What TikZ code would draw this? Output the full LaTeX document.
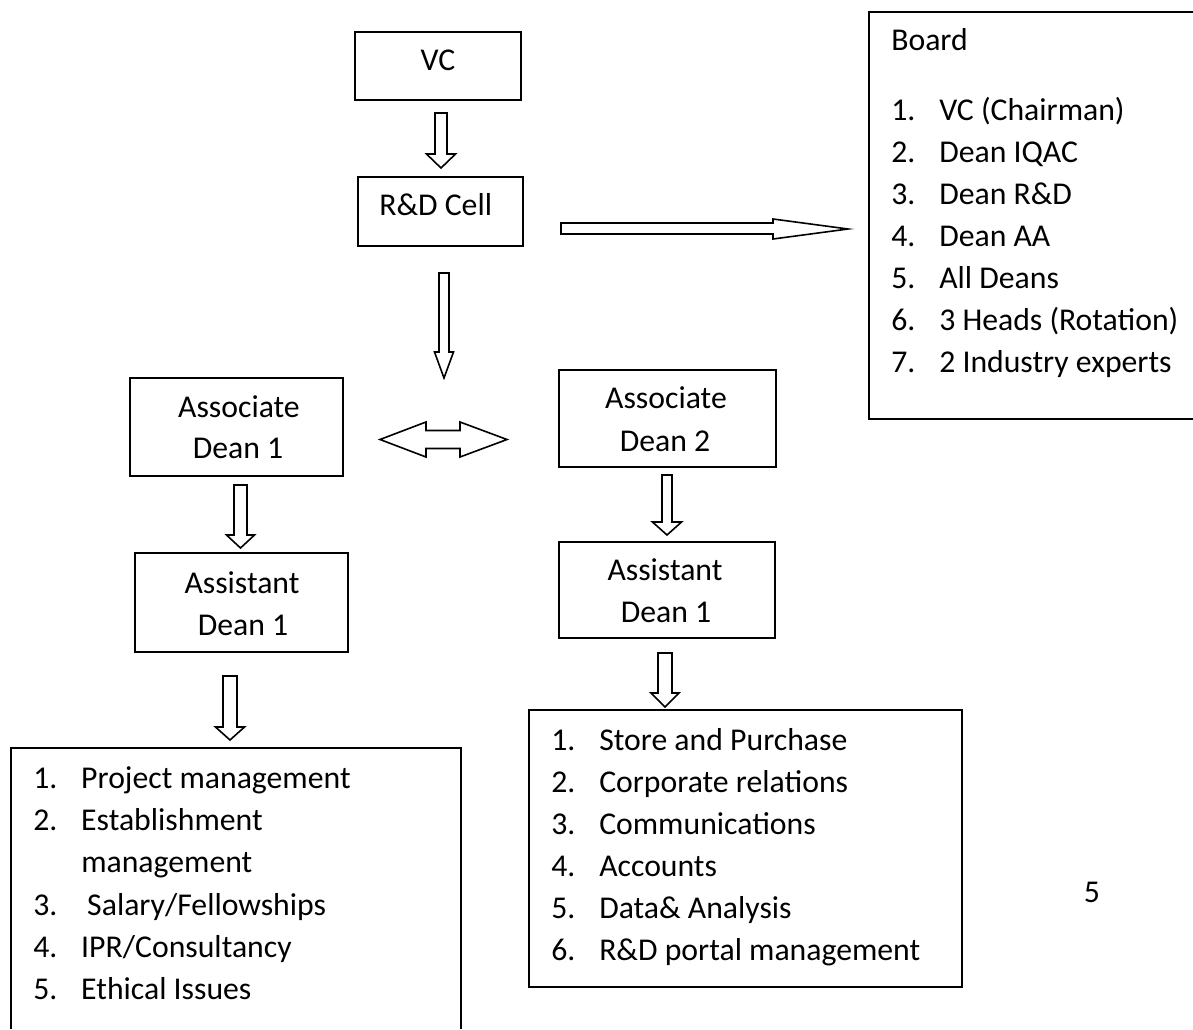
\documentclass[tikz,border=0pt]{standalone}
\usepackage{fontspec}
\setmainfont{Carlito}
\usetikzlibrary{fit}
\newcommand\blkdown[6]{% cx, half shaft, half head, ytop, yhead, ytip
  \draw[blk] (#1-#2,#4) -- (#1+#2,#4) -- (#1+#2,#5) -- (#1+#3,#5) -- (#1,#6)
    -- (#1-#3,#5) -- (#1-#2,#5) -- cycle;}
\begin{document}
\begin{tikzpicture}[x=0.75pt,y=-0.75pt,
  box/.style={draw, line width=1.4pt, inner sep=0pt},
  frame/.style={line width=1.4pt},
  txt/.style={inner sep=0pt, font=\fontsize{23.8}{31.5}\selectfont},
  blk/.style={draw, line width=1.2pt, fill=white, line join=miter}]
\useasboundingbox (0,0) rectangle (1193,1029);
\fill[white] (0,0) rectangle (1193,1029);
% boxes
\node[box, fit={(355,32) (521,100)}] (vc) {};
\node[box, fit={(358,177) (523,246)}] (rd) {};
\node[box, fit={(130,378) (343,476)}] (as1) {};
\node[box, fit={(135,553) (348,652)}] (ad1) {};
\node[box, fit={(559,370) (776,467)}] (as2) {};
\node[box, fit={(559,542) (775,638)}] (ad2) {};
\node[inner sep=0pt, fit={(869,12) (1193,419)}] (board) {};
\draw[frame] (board.north east) -- (board.north west) -- (board.south west) -- (board.south east);
\node[inner sep=0pt, fit={(11,748) (461,1029)}] (list1) {};
\draw[frame] (list1.south west) -- (list1.north west) -- (list1.north east) -- (list1.south east);
\node[box, fit={(529,710) (962,987)}] (list2) {};
% box texts
\node[txt, anchor=base] (vct) at (438,70) {VC};
\node[txt, anchor=base west] (rdt) at (379,215) {R\&D Cell};
\node[txt, anchor=base] (as1a) at (239,417) {Associate};
\node[txt, anchor=base] (as1b) at (238,458) {Dean 1};
\node[txt, anchor=base] (ad1a) at (242,593) {Assistant};
\node[txt, anchor=base] (ad1b) at (243,635) {Dean 1};
\node[txt, anchor=base] (as2a) at (666,408) {Associate};
\node[txt, anchor=base] (as2b) at (665,451) {Dean 2};
\node[txt, anchor=base] (ad2a) at (665,580) {Assistant};
\node[txt, anchor=base] (ad2b) at (666,622) {Dean 1};
% board
\node[txt, anchor=base west] (bt) at (891,50) {Board};
\foreach \t [count=\i] in {VC (Chairman), Dean IQAC, Dean R\&D, Dean AA, All Deans, 3 Heads (Rotation), 2 Industry experts}
  \node[txt, anchor=base west] (b\i) at (891,{120+42*(\i-1)}) {\makebox[36pt][l]{\i.}\t};
% left list
\node[txt, anchor=base west] (l1) at (33,788) {\makebox[36pt][l]{1.}Project management};
\node[txt, anchor=base west] (l2) at (33,830) {\makebox[36pt][l]{2.}Establishment};
\node[txt, anchor=base west] (l2b) at (81,872) {management};
\node[txt, anchor=base west] (l3) at (33,915) {\makebox[36pt][l]{3.}\hspace{4.5pt}Salary/Fellowships};
\node[txt, anchor=base west] (l4) at (33,957) {\makebox[36pt][l]{4.}IPR/Consultancy};
\node[txt, anchor=base west] (l5) at (33,999) {\makebox[36pt][l]{5.}Ethical Issues};
% right list
\foreach \t [count=\i] in {Store and Purchase, Corporate relations, Communications, Accounts, Data\& Analysis, R\&D portal management}
  \node[txt, anchor=base west] (r\i) at (551,{750+42*(\i-1)}) {\makebox[36pt][l]{\i.}\t};
% page number
\node[txt, anchor=base] (pg) at (1092,902) {5};
% block arrows
\blkdown{441}{6}{14.5}{113}{154}{168}
\blkdown{444}{5}{9.5}{273}{352}{378}
\blkdown{240.5}{6.5}{14}{485}{535}{548}
\blkdown{230}{7}{14.5}{676}{727}{740}
\blkdown{667}{5}{14.5}{475}{522}{535}
\blkdown{665}{7}{14}{653}{693}{707}
\draw[blk] (561,223) -- (773,223) -- (773,219) -- (848,229) -- (773,239) -- (773,234) -- (561,234) -- cycle;
\draw[blk] (380,439.5) -- (426,422) -- (426,430.5) -- (460,430.5) -- (460,422) -- (507,439.5)
  -- (460,457) -- (460,448.5) -- (426,448.5) -- (426,457) -- cycle;
\end{tikzpicture}
\end{document}
